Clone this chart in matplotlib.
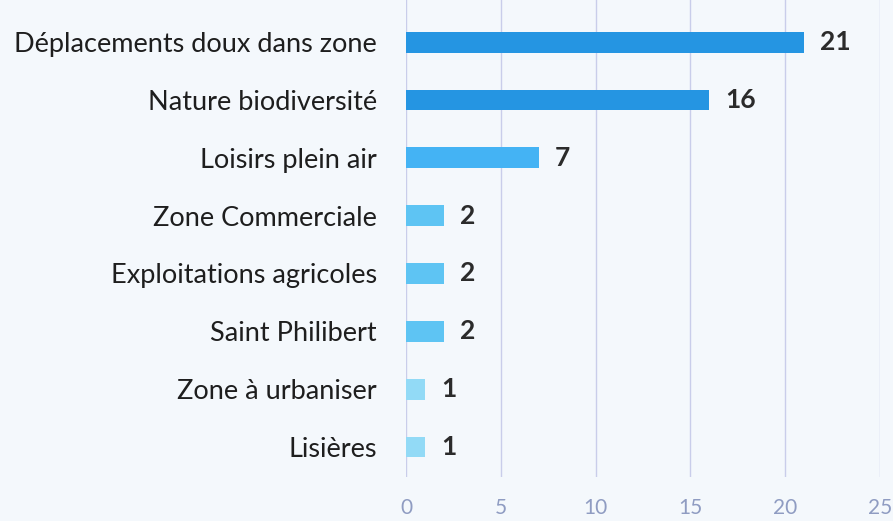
import matplotlib.pyplot as plt

# Survey answers per theme
categories = [
    "Déplacements doux dans zone",
    "Nature biodiversité",
    "Loisirs plein air",
    "Zone Commerciale",
    "Exploitations agricoles",
    "Saint Philibert",
    "Zone à urbaniser",
    "Lisières",
]
counts = [21, 16, 7, 2, 2, 2, 1, 1]
bar_colors = ["#2595e2", "#2595e2", "#44b3f4", "#5ec4f3", "#5ec4f3", "#5ec4f3", "#92daf6", "#92daf6"]
x_ticks = [0, 5, 10, 15, 20, 25]

bg = "#f4f8fc"
fig = plt.figure(figsize=(8.93, 5.21), dpi=100, facecolor=bg)
ax = fig.add_axes([0.4547, 0.0845, 0.5308, 0.9155], facecolor=bg)

ypos = list(range(len(categories)))
ax.barh(ypos, counts, height=0.36, color=bar_colors, zorder=3)

for y, v in zip(ypos, counts):
    ax.text(v + 0.85, y, str(v), va="center", ha="left",
            fontsize=19, fontweight="bold", color="#2b2b2b", family="Lato")

ax.set_xlim(0, 25)
ax.set_ylim(7.52, -0.73)
ax.set_xticks(x_ticks)
ax.set_yticks(ypos)
ax.set_yticklabels(categories, fontsize=19.5, color="#1e1e1e", family="Lato")
ax.tick_params(axis="y", length=0, pad=21)
ax.tick_params(axis="x", length=0, pad=15, labelsize=15, labelcolor="#8f9cc2")
for lbl in ax.get_xticklabels():
    lbl.set_family("Lato")

ax.grid(axis="x", color="#c9cdea", linewidth=1, zorder=0)
for s in ax.spines.values():
    s.set_visible(False)

fig.savefig("out.png", dpi=100, facecolor=bg)
